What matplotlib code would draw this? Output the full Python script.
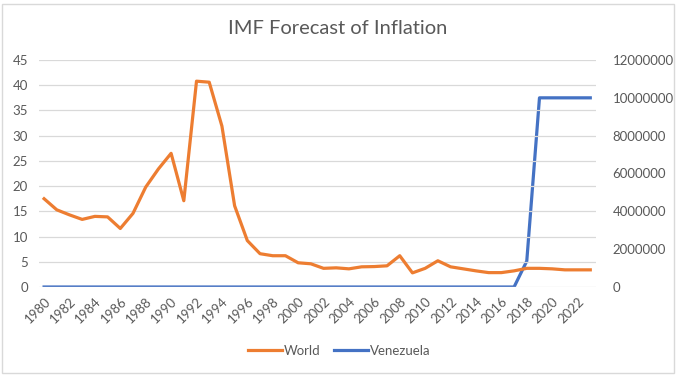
"""IMF inflation forecast: world vs Venezuela on twin axes."""

import matplotlib.pyplot as plt
from matplotlib.patches import Rectangle

plt.rcParams["font.family"] = ["Lato", "DejaVu Sans"]

years = list(range(1980, 2024))
world = [
    17.5, 15.3, 14.3, 13.4, 14.0, 13.9, 11.6, 14.6, 19.8, 23.4,
    26.5, 17.1, 40.8, 40.6, 31.9, 16.1, 9.2, 6.6, 6.2, 6.2,
    4.8, 4.6, 3.7, 3.8, 3.6, 4.0, 4.05, 4.2, 6.2, 2.8,
    3.7, 5.2, 4.0, 3.6, 3.2, 2.85, 2.85, 3.2, 3.7, 3.7,
    3.6, 3.4, 3.4, 3.4,
]
venezuela = [0] * 38 + [1370000, 10000000, 10000000, 10000000, 10000000, 10000000]
left_ticks = list(range(0, 50, 5))
right_ticks = list(range(0, 14000000, 2000000))
year_labels = years[::2]

GRAY = "#595959"
GRID = "#d9d9d9"

fig = plt.figure(figsize=(6.79, 3.77), dpi=100)
fig.patches.append(Rectangle((2 / 679, 4 / 377), 672 / 679, 369 / 377,
                             transform=fig.transFigure, fill=False,
                             edgecolor=GRID, linewidth=1))

ax = fig.add_axes([39 / 679, 1 - 287 / 377, 557 / 679, 227 / 377])
ax2 = ax.twinx()

ax.plot(years, world, color="#ED7D31", linewidth=2.3, label="World",
        solid_joinstyle="round", zorder=3)
ax2.plot(years, venezuela, color="#4472C4", linewidth=2.3, label="Venezuela",
         solid_joinstyle="round")

ax.set_zorder(ax2.get_zorder() + 1)
ax.patch.set_visible(False)

ax.set_xlim(1979.6, 2023.45)
ax.set_ylim(0, 45)
ax2.set_ylim(0, 12000000)
ax.set_yticks(left_ticks)
ax2.set_yticks(right_ticks)
ax2.set_yticklabels([str(v) for v in right_ticks])
ax.set_xticks(year_labels)
ax.set_xticklabels([str(y) for y in year_labels], rotation=45, ha="right",
                   rotation_mode="anchor")

ax.grid(axis="y", color=GRID, linewidth=0.9)
ax.set_axisbelow(True)
for a in (ax, ax2):
    for side in ("top", "right", "left", "bottom"):
        a.spines[side].set_visible(False)
    a.tick_params(colors=GRAY, labelsize=9.5, length=0)
ax.tick_params(axis="y", pad=8)
ax.tick_params(axis="x", pad=6)
ax2.tick_params(axis="y", pad=12)

fig.text(0.497, 1 - 29 / 377, "IMF Forecast of Inflation", ha="center",
         va="center", fontsize=14.5, color=GRAY)

handles = ax.get_lines()[:1] + ax2.get_lines()[:1]
fig.legend(handles, [h.get_label() for h in handles], loc="center",
           bbox_to_anchor=(0.5, 1 - 351 / 377), ncol=2, frameon=False,
           fontsize=9.5, labelcolor=GRAY, handlelength=2.6,
           handletextpad=0.15, columnspacing=1.0)

fig.savefig("out.png", dpi=100)
